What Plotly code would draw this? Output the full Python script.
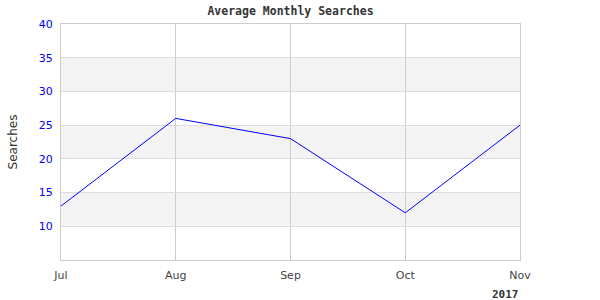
import plotly.graph_objects as go

months = ["Jul", "Aug", "Sep", "Oct", "Nov"]
searches = [13, 26, 23, 12, 25]
y_ticks = [10, 15, 20, 25, 30, 35, 40]
year_label = "2017"
title_text = "Average Monthly Searches"

x_idx = list(range(len(months)))

fig = go.Figure()
fig.add_trace(go.Scatter(x=x_idx, y=searches, mode="lines",
                         line=dict(color="#0000ff", width=1), hoverinfo="skip"))

# alternating bands
shapes = []
for lo in [10, 20, 30]:
    shapes.append(dict(type="rect", xref="paper", yref="y", x0=0, x1=1, y0=lo, y1=lo + 5,
                       fillcolor="#f3f3f3", line=dict(width=0), layer="below"))

fig.update_layout(
    width=600, height=300,
    margin=dict(l=61, r=80, t=24, b=40),
    paper_bgcolor="white", plot_bgcolor="white",
    showlegend=False,
    shapes=shapes,
    title=dict(text="<b>" + title_text + "</b>", x=0.5, xref="paper", xanchor="center",
               y=1, yref="container", yanchor="top", pad=dict(t=7),
               font=dict(family="DejaVu Sans Mono", size=11.5, color="#333333")),
    xaxis=dict(range=[0, len(months) - 1], tickvals=x_idx, ticktext=months,
               showgrid=True, gridcolor="#cccccc", gridwidth=1,
               showline=True, linecolor="#cccccc", mirror=True, zeroline=False,
               ticks="outside", ticklen=5, tickcolor="rgba(0,0,0,0)",
               tickfont=dict(family="DejaVu Sans", size=11, color="#444444")),
    yaxis=dict(range=[5, 40], tickvals=y_ticks,
               showgrid=True, gridcolor="#dddddd", gridwidth=1,
               showline=True, linecolor="#cccccc", mirror=True, zeroline=False,
               ticks="outside", ticklen=5, tickcolor="rgba(0,0,0,0)",
               tickfont=dict(family="DejaVu Sans", size=11, color="#0000ff"),
               title=dict(text="Searches", standoff=18,
                          font=dict(family="DejaVu Sans", size=12, color="#333333"))),
    annotations=[dict(text="<b>" + year_label + "</b>", xref="paper", yref="paper",
                      x=1, y=-0.148, xanchor="right", yanchor="middle", showarrow=False,
                      borderpad=0,
                      font=dict(family="DejaVu Sans Mono", size=11, color="#333333"))],
)

fig.write_html("out.html")
